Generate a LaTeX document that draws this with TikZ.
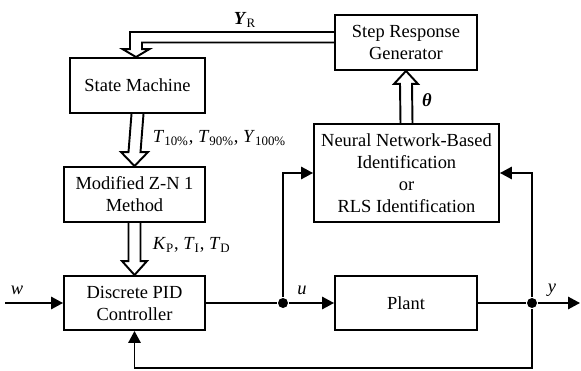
\documentclass[tikz,border=0pt]{standalone}
\usepackage{fontspec}
\setmainfont{Liberation Serif}
\usetikzlibrary{arrows.meta}
\usetikzlibrary{calc}

\begin{document}
\begin{tikzpicture}[x=0.02cm, y=-0.02cm, line width=1.1pt, font=\fontsize{10.5}{12.5}\selectfont,
		block/.style={draw, align=center, inner sep=0pt},
		sig/.style={-{Triangle[length=6.8pt, width=7pt]}},
		dot/.style={circle, fill, inner sep=0pt, minimum size=0.2cm}]
		\useasboundingbox (0, 0) rectangle (581, 371);
		
		\node [block, minimum width=2.7cm, minimum height=1.1cm] (sm) at (137.5, 85.5) {State Machine}; % Blocks
		\node [block, minimum width=2.82cm, minimum height=1.1cm] (zn) at (134.5, 194.5) {Modified Z-N 1\\Method};
		\node [block, minimum width=2.82cm, minimum height=1.08cm] (pid) at (134.5, 303) {Discrete PID\\Controller};
		\node [block, minimum width=2.84cm, minimum height=1.1cm] (srg) at (406, 42.5) {Step Response\\Generator};
		\node [block, minimum width=3.7cm, minimum height=1.96cm] (nn) at (406.5, 173) {Neural Network-Based\\Identification\\or\\RLS Identification};
		\node [block, minimum width=2.84cm, minimum height=1.08cm] (plant) at (406, 303) {Plant};
		
		\node [dot] (du) at (283, 303) {}; % Branch points
		\node [dot] (dy) at (532, 303) {};
		\coordinate (win) at (5, 303);
		\coordinate (yout) at (580, 303);
		
		\draw [sig] (win) -- (pid.west); % Signal lines
		\draw (pid.east) -- (du);
		\draw [sig] (du) -- (plant.west);
		\draw (plant.east) -- (dy);
		\draw [sig] (dy) -- (yout);
		\draw [sig] (du) |- (nn.west);
		\draw [sig] (dy) |- (nn.east);
		\draw [sig] (dy) -- ++(0, 65) -| (pid.south); % Feedback
		
		\draw ($(sm.south)+(-6,0)$) -- ($(zn.north)+(-6,-14)$) -- ($(zn.north)+(-13.5,-14)$) -- (zn.north) -- ($(zn.north)+(13.5,-14)$) -- ($(zn.north)+(6,-14)$) -- ($(sm.south)+(6,0)$); % Hollow arrows
		\draw ($(zn.south)+(-6,0)$) -- ($(pid.north)+(-6,-14)$) -- ($(pid.north)+(-12.5,-14)$) -- (pid.north) -- ($(pid.north)+(12.5,-14)$) -- ($(pid.north)+(6,-14)$) -- ($(zn.south)+(6,0)$);
		\draw ($(nn.north)+(-6,0)$) -- ($(srg.south)+(-6,13)$) -- ($(srg.south)+(-12,13)$) -- (srg.south) -- ($(srg.south)+(12,13)$) -- ($(srg.south)+(6,13)$) -- ($(nn.north)+(6,0)$);
		\draw ($(srg.west)+(0,-10.5)$) -| ($(sm.north)+(-7.5,-8)$) -- ($(sm.north)+(-15,-8)$) -- ($(sm.north)+(-1.5,0)$) -- ($(sm.north)+(12,-8)$) -- ($(sm.north)+(4.5,-8)$) |- (srg.west);
		
		\node (lw) at (17, 290) {\textit{w}}; % Labels
		\node (lu) at (302, 290) {\textit{u}};
		\node (ly) at (552, 290) {\textit{y}};
		\node (lyr) at (245, 20) {\textbf{\textit{Y}}\textsubscript{R}};
		\node (lth) at (427, 100) {\textbf{\textit{θ}}};
		\node [anchor=west, inner sep=0pt] (lt) at (152, 138) {\textit{T}\textsubscript{10\%}, \textit{T}\textsubscript{90\%}, \textit{Y}\textsubscript{100\%}};
		\node [anchor=west, inner sep=0pt] (lk) at (152, 245) {\textit{K}\textsubscript{P}, \textit{T}\textsubscript{I}, \textit{T}\textsubscript{D}};
	\end{tikzpicture}
\end{document}
